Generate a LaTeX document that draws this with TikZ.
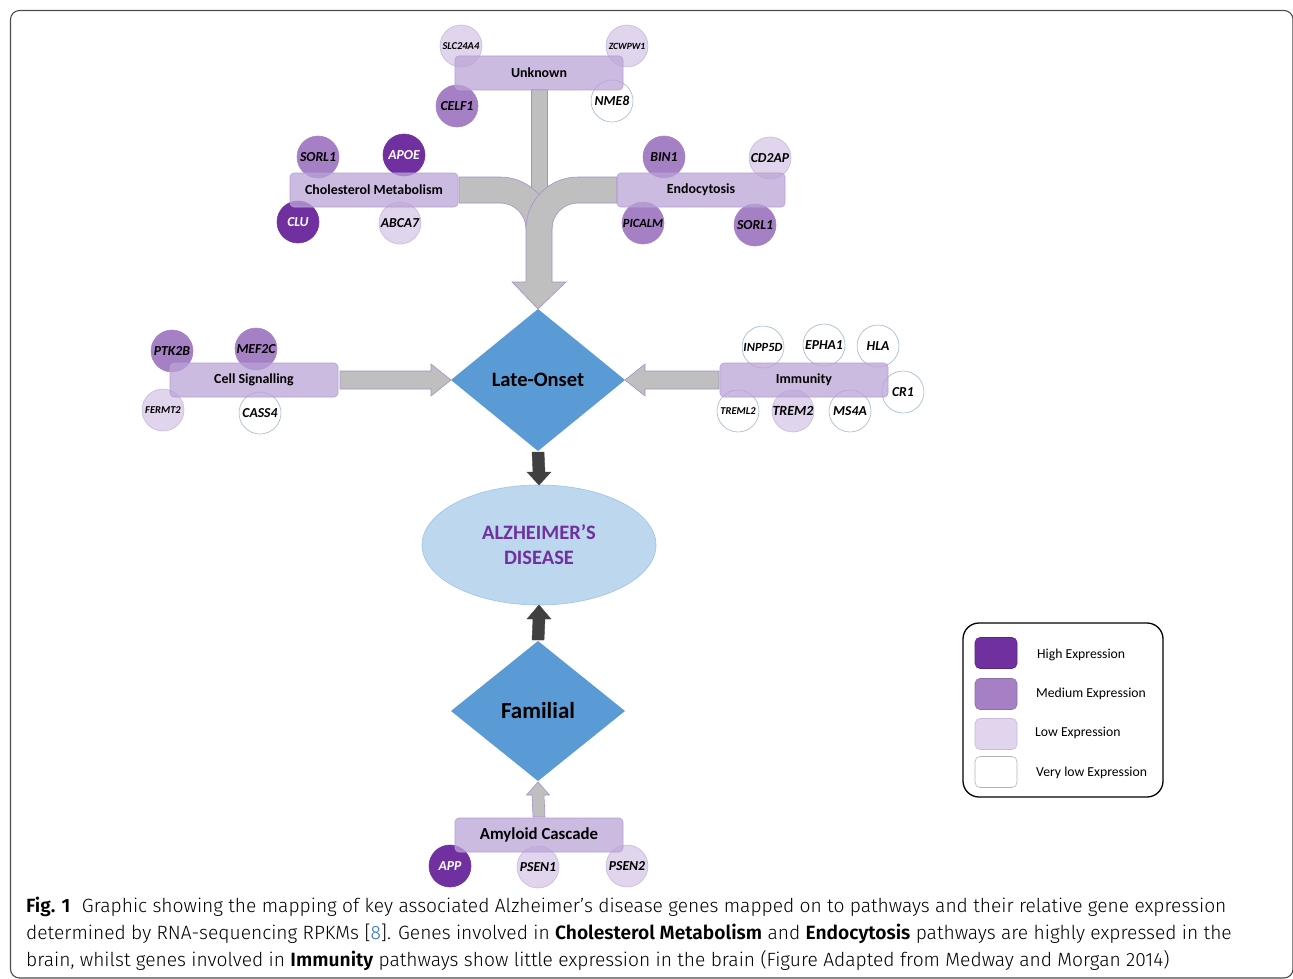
\documentclass[tikz,border=0pt]{standalone}
\usepackage{fontspec}
\setmainfont{Carlito}
\IfFontExistsTF{Fira Sans Light}{%
  \IfFontExistsTF{Fira Sans SemiBold}{%
    \newfontfamily\capfont{Fira Sans Light}[BoldFont={Fira Sans SemiBold}]}{%
    \newfontfamily\capfont{Fira Sans Light}[BoldFont={Fira Sans Bold}]}}{%
  \newfontfamily\capfont{Open Sans}}
\usetikzlibrary{shapes.geometric,calc}
\definecolor{high}{HTML}{7030A0}
\definecolor{med}{RGB}{166,128,196}
\definecolor{low}{RGB}{224,213,236}
\definecolor{lowedge}{RGB}{200,184,222}
\definecolor{vlowedge}{RGB}{160,182,214}
\definecolor{pathfill}{RGB}{187,164,214}
\definecolor{pathedge}{RGB}{180,160,212}
\definecolor{greyarrow}{RGB}{191,191,191}
\definecolor{arrowedge}{RGB}{170,142,204}
\definecolor{diam}{HTML}{5B9BD5}
\definecolor{adfill}{HTML}{BDD7EE}
\definecolor{adedge}{HTML}{9DC3E6}
\definecolor{darkarrow}{HTML}{404040}
\definecolor{linkblue}{HTML}{2F6EBA}
\newcommand\fsz[1]{\fontsize{#1}{#1}\selectfont}
\begin{document}
\begin{tikzpicture}[x=1pt,y=-1pt,
  gene/.style={circle,minimum size=42pt,inner sep=0pt,outer sep=0pt,line width=0.6pt,font=\bfseries\itshape\fsz{13.7}},
  high/.style={gene,fill=high,draw=high,text=white},
  med/.style={gene,fill=med,draw=med},
  low/.style={gene,fill=low,draw=lowedge},
  vlow/.style={gene,fill=white,draw=vlowedge},
  pathbox/.style={rectangle,rounded corners=4pt,fill=pathfill,fill opacity=0.75,text opacity=1,draw=pathedge,line width=0.6pt,minimum width=168pt,minimum height=34pt,inner sep=0pt,outer sep=0pt,font=\bfseries\fsz{13.9}},
  garrow/.style={fill=greyarrow,draw=arrowedge,line width=0.6pt,line join=miter},
  darrow/.style={fill=darkarrow,draw=darkarrow,line width=0.4pt},
  dia/.style={diamond,fill=diam,inner sep=0pt,outer sep=0pt,font=\bfseries},
  swatch/.style={rectangle,rounded corners=5pt,minimum width=42pt,minimum height=31pt,inner sep=0pt,line width=0.6pt},
  legtext/.style={anchor=west,inner sep=0pt,font=\fsz{13.7}},
  captext/.style={anchor=base west,inner sep=0pt,font=\capfont\fsz{19.2}}
]
\useasboundingbox (0,0) rectangle (1293,979);
\clip (0,0) rectangle (1293,979);
\draw[black!70,line width=1.1pt,rounded corners=9pt] (10.5,10.5) rectangle (1293,978);

% ---------- gene circles (drawn under the pathway boxes)
\node[low,font=\bfseries\itshape\fsz{10.5}] (slc) at (461,46) {SLC24A4};
\node[low,font=\bfseries\itshape\fsz{9.5}] (zcw) at (627,46) {ZCWPW1};
\node[med] (celf) at (457,106) {CELF1};
\node[vlow] (nme) at (612,101) {NME8};

\node[med] (sorlA) at (318,157) {SORL1};
\node[high] (apoe) at (404,155) {APOE};
\node[high] (clu) at (298,222) {CLU};
\node[low] (abca) at (400,223) {ABCA7};

\node[med] (bin) at (664,157) {BIN1};
\node[low] (cd2) at (770,158) {CD2AP};
\node[med,font=\bfseries\itshape\fsz{12.5}] (pic) at (643,223) {PICALM};
\node[med] (sorlB) at (755,225) {SORL1};

\node[med] (ptk) at (172,351) {PTK2B};
\node[med] (mef) at (256,349) {MEF2C};
\node[low,font=\bfseries\itshape\fsz{10.5}] (fer) at (163,410) {FERMT2};
\node[vlow] (cass) at (260,413) {CASS4};

\node[vlow,font=\bfseries\itshape\fsz{12.5}] (inp) at (763,347) {INPP5D};
\node[vlow] (eph) at (824,345) {EPHA1};
\node[vlow] (hla) at (878,346) {HLA};
\node[vlow] (cr) at (903,392) {CR1};
\node[vlow,font=\bfseries\itshape\fsz{10.5}] (treml) at (738,411) {TREML2};
\node[low,font=\bfseries\itshape\fsz{14}] (trem) at (793,411) {TREM2};
\node[vlow] (ms) at (850,411) {MS4A};

\node[high] (app) at (450,866) {APP};
\node[low] (ps1) at (538,867) {PSEN1};
\node[low] (ps2) at (627,866) {PSEN2};

% ---------- central nodes
\node[dia,minimum width=174pt,minimum height=142pt,font=\bfseries\fsz{20.5}] (lo) at (538,380) {Late-Onset};
\node[ellipse,fill=adfill,draw=adedge,line width=0.6pt,minimum width=234pt,minimum height=120pt,inner sep=0pt,outer sep=0pt,align=center,text=high,font=\bfseries\fontsize{20.5}{25}\selectfont] (ad) at (539,545) {ALZHEIMER’S\\DISEASE};
\node[dia,minimum width=174pt,minimum height=140pt,font=\bfseries\fsz{23}] (fa) at (538,711) {Familial};

% ---------- grey connectors (top)
\coordinate (jn) at (539,229);
\draw[garrow] (531,89) rectangle (547,200);
\draw[garrow] (459,177) -- (500,177) .. controls (528.7,177) and (552,200.3) .. (552,229)
  -- (526,229) .. controls (526,214.6) and (514.4,203) .. (500,203) -- (459,203) -- cycle;
\draw[garrow] (617,177) -- (578,177) .. controls (549.3,177) and (526,200.3) .. (526,229)
  -- (526,282) -- (512,282) -- (lo.north) -- (566,282) -- (552,282) -- (552,229)
  .. controls (552,214.6) and (563.6,203) .. (578,203) -- (617,203) -- cycle;

% ---------- pathway boxes
\node[pathbox] (un) at (539,73) {Unknown};
\node[pathbox] (cm) at (374,190) {Cholesterol Metabolism};
\node[pathbox] (en) at (701,190) {Endocytosis};
\node[pathbox] (cs) at (254,380) {Cell Signalling};
\node[pathbox] (im) at (804,380) {Immunity};
\node[pathbox,font=\bfseries\fsz{16.8}] (am) at (539,835) {Amyloid Cascade};

% ---------- side connectors
\draw[garrow] ($(cs.east)+(2,-9)$) -- ($(lo.west)+(-20,-9)$) -- ($(lo.west)+(-20,-16)$) -- (lo.west)
  -- ($(lo.west)+(-20,16)$) -- ($(lo.west)+(-20,9)$) -- ($(cs.east)+(2,9)$) -- cycle;
\draw[garrow] ($(im.west)+(-1,-9)$) -- ($(lo.east)+(20,-9)$) -- ($(lo.east)+(20,-16)$) -- (lo.east)
  -- ($(lo.east)+(20,16)$) -- ($(lo.east)+(20,9)$) -- ($(im.west)+(-1,9)$) -- cycle;

% ---------- vertical connectors
\draw[darrow] ($(lo.south)+(-6,1)$) -- ($(ad.north)+(-6,-13)$) -- ($(ad.north)+(-12,-13)$) -- (ad.north)
  -- ($(ad.north)+(12,-13)$) -- ($(ad.north)+(6,-13)$) -- ($(lo.south)+(6,1)$) -- cycle;
\draw[darrow] ($(fa.north)+(-6,-1)$) -- ($(ad.south)+(-6,14)$) -- ($(ad.south)+(-12,14)$) -- (ad.south)
  -- ($(ad.south)+(12,14)$) -- ($(ad.south)+(6,14)$) -- ($(fa.north)+(6,-1)$) -- cycle;
\draw[garrow] ($(am.north)+(-6,-1)$) -- ($(fa.south)+(-6,14)$) -- ($(fa.south)+(-11.5,14)$) -- ($(fa.south)+(0,1)$)
  -- ($(fa.south)+(11.5,14)$) -- ($(fa.south)+(6,14)$) -- ($(am.north)+(6,-1)$) -- cycle;

% ---------- legend
\node[draw=black,line width=1.3pt,rounded corners=16pt,minimum width=200pt,minimum height=174pt,inner sep=0pt] (leg) at (1063,710) {};
\node[swatch,fill=high,draw=high!80!black] (sw1) at (996,653) {};
\node[swatch,fill=med,draw=med!85!black] (sw2) at (996,694) {};
\node[swatch,fill=low,draw=lowedge] (sw3) at (996,734) {};
\node[swatch,fill=white,draw=black!30] (sw4) at (996,772) {};
\node[legtext] (l1) at (1037,655) {High Expression};
\node[legtext] (l2) at (1036,694) {Medium Expression};
\node[legtext] (l3) at (1035,733) {Low Expression};
\node[legtext] (l4) at (1036,773) {Very low Expression};

% ---------- caption
\node[captext] (c1) at (26,912) {\textbf{Fig. 1}\hspace{0.6em}Graphic showing the mapping of key associated Alzheimer’s disease genes mapped on to pathways and their relative gene expression};
\node[captext] (c2) at (26,939) {determined by RNA-sequencing RPKMs [\textcolor{linkblue}{8}]. Genes involved in \textbf{Cholesterol Metabolism} and \textbf{Endocytosis} pathways are highly expressed in the};
\node[captext] (c3) at (26,966) {brain, whilst genes involved in \textbf{Immunity} pathways show little expression in the brain (Figure Adapted from Medway and Morgan 2014)};
\end{tikzpicture}
\end{document}
